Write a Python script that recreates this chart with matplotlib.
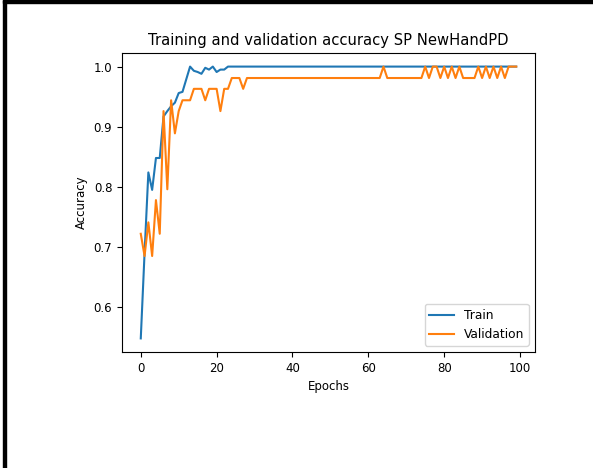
import matplotlib
matplotlib.use("Agg")
import matplotlib.pyplot as plt
from matplotlib.patches import Rectangle

# accuracy per epoch
train_acc = [0.548, 0.690, 0.824, 0.795, 0.848, 0.848, 0.917, 0.926, 0.934, 0.940,
             0.956, 0.958, 0.979, 1.000, 0.993, 0.991, 0.988, 0.998, 0.995, 1.000,
             0.991, 0.995, 0.995] + [1.0] * 77

val_acc = [0.722, 0.685, 0.741, 0.685, 0.778, 0.722, 0.926, 0.796, 0.944, 0.889,
           0.926, 0.944, 0.944, 0.944, 0.963, 0.963, 0.963, 0.944, 0.963, 0.963,
           0.963, 0.926, 0.963, 0.963, 0.981, 0.981, 0.981, 0.963] \
    + [0.981] * 36 + [1.0] + [0.981] * 10 \
    + [1.0, 0.981, 1.0, 1.0, 0.981, 1.0, 0.981, 1.0, 0.981, 1.0,
       0.981, 0.981, 0.981, 0.981, 1.0, 0.981, 1.0, 0.981, 1.0, 0.981,
       1.0, 0.981, 1.0, 1.0, 1.0]
epochs = list(range(len(train_acc)))

W, H = 593, 468
fig = plt.figure(figsize=(W / 100, H / 100), dpi=100)
ax = fig.add_axes([122 / W, 1 - 352 / H, 413 / W, 299 / H])

ax.plot(epochs, train_acc, label='Train')
ax.plot(epochs, val_acc, label='Validation')

ax.set_title('Training and validation accuracy SP NewHandPD', fontsize=10.6)
ax.set_xlabel('Epochs', fontsize=8.5)
ax.set_ylabel('Accuracy', fontsize=8.5)
ax.tick_params(labelsize=8.5)
ax.legend(loc='lower right', fontsize=8.8)

# black frame of the screenshot (left and top edges)
fig.patches.append(Rectangle((3 / W, 0), 3 / W, 1, transform=fig.transFigure,
                             color='black', zorder=10))
fig.patches.append(Rectangle((3 / W, 1 - 3 / H), 1, 3 / H, transform=fig.transFigure,
                             color='black', zorder=10))

plt.savefig("out.png", dpi=100)
